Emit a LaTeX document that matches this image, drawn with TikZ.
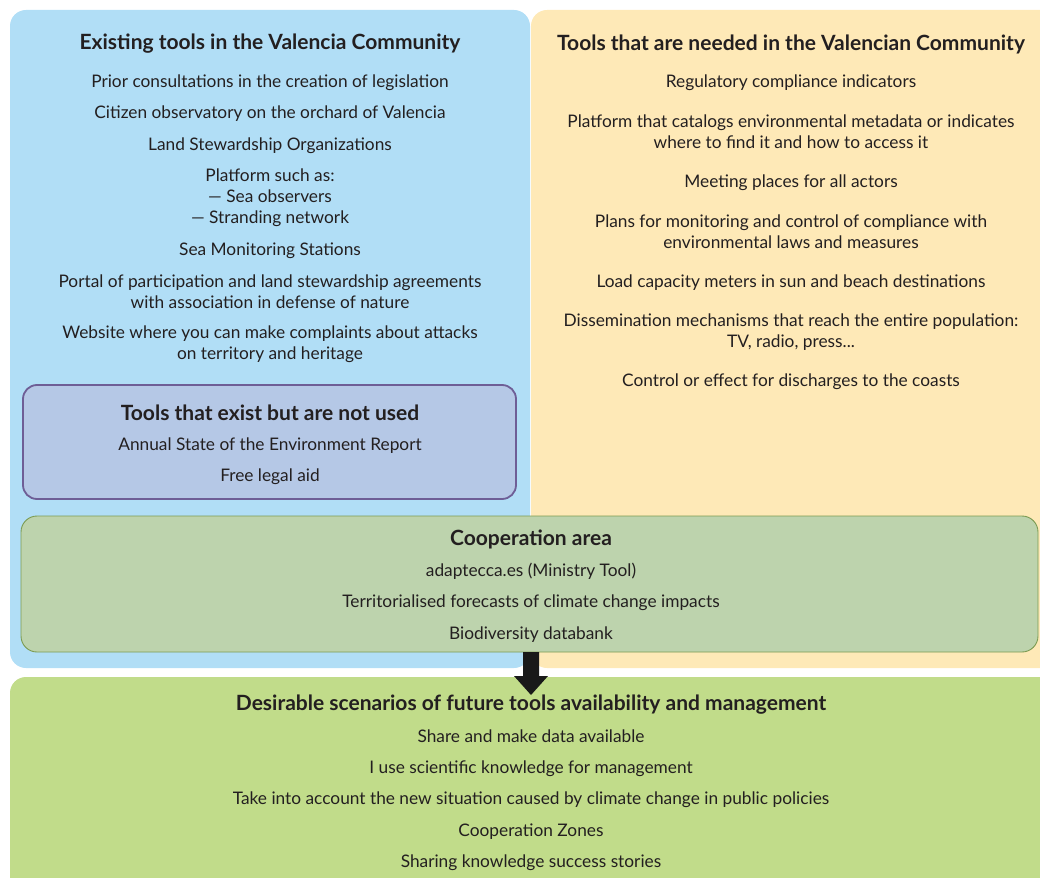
\documentclass[tikz,border=0pt]{standalone}
\usepackage{fontspec}
\setmainfont{Lato}
\usetikzlibrary{arrows.meta}
\definecolor{txt}{HTML}{231F20}
\definecolor{bluebg}{HTML}{B1DEF6}
\definecolor{yellowbg}{HTML}{FEE9B7}
\definecolor{purplefill}{HTML}{B5C8E6}
\definecolor{purpleline}{HTML}{6E5E96}
\definecolor{coopfill}{HTML}{BDD3AD}
\definecolor{coopline}{HTML}{7C9B52}
\definecolor{greenbg}{HTML}{C1DC8A}
\tikzset{
  panel/.style={rounded corners=16pt, draw=none},
  ttl/.style={font=\fontsize{21}{25}\selectfont\bfseries, text=txt, align=center, inner sep=0pt, yshift=-1pt},
  itm/.style={font=\fontsize{17.3}{21}\selectfont, text=txt, align=center, inner sep=0pt, yshift=-1.5pt},
}
\begin{document}
\begin{tikzpicture}[x=1pt,y=-1pt]
\useasboundingbox (0,0) rectangle (1040,877);
% panels
\path[panel, fill=bluebg] (10,10) rectangle (530,668);
\path[panel, fill=yellowbg] (531,10) rectangle (1056,668);
\path[panel, fill=greenbg] (10,677) rectangle (1056,900);
\draw[rounded corners=14pt, fill=purplefill, draw=purpleline, line width=1.8pt] (23,385) rectangle (516,499);
\draw[rounded corners=16pt, fill=coopfill, draw=coopline, line width=0.9pt] (21,516) rectangle (1038,652);
% left
\node[ttl] (lt) at (270,43) {Existing tools in the Valencia Community};
\node[itm] (l1) at (270,81) {Prior consultations in the creation of legislation};
\node[itm] (l2) at (270,112) {Citizen observatory on the orchard of Valencia};
\node[itm] (l3) at (270,144) {Land Stewardship Organizations};
\node[itm] (l4) at (270,196) {Platform such as:\\— Sea observers\\— Stranding network};
\node[itm] (l5) at (270,249) {Sea Monitoring Stations};
\node[itm] (l6) at (270,290.5) {Portal of participation and land stewardship agreements\\with association in defense of nature};
\node[itm] (l7) at (270,342.5) {Website where you can make complaints about attacks\\on territory and heritage};
% purple
\node[ttl] (pt) at (270,412) {Tools that exist but are not used};
\node[itm] (p1) at (270,444) {Annual State of the Environment Report};
\node[itm] (p2) at (270,475) {Free legal aid};
% right
\node[ttl] (rt) at (791,43) {Tools that are needed in the Valencian Community};
\node[itm] (r1) at (791,81) {Regulatory compliance indicators};
\node[itm] (r2) at (791,130.5) {Platform that catalogs environmental metadata or indicates\\where to find it and how to access it};
\node[itm] (r3) at (791,181) {Meeting places for all actors};
\node[itm] (r4) at (791,230.5) {Plans for monitoring and control of compliance with\\environmental laws and measures};
\node[itm] (r5) at (791,281) {Load capacity meters in sun and beach destinations};
\node[itm] (r6) at (791,330.5) {Dissemination mechanisms that reach the entire population:\\TV, radio, press...};
\node[itm] (r7) at (791,380) {Control or effect for discharges to the coasts};
% cooperation
\node[ttl] (ct) at (531,538) {Cooperation area};
\node[itm] (c1) at (531,570) {adaptecca.es (Ministry Tool)};
\node[itm] (c2) at (531,601) {Territorialised forecasts of climate change impacts};
\node[itm] (c3) at (531,633) {Biodiversity databank};
% bottom
\node[ttl] (bt) at (531,704) {Desirable scenarios of future tools availability and management};
\node[itm] (b1) at (531,735) {Share and make data available};
\node[itm] (b2) at (531,767) {I use scientific knowledge for management};
\node[itm] (b3) at (531,798) {Take into account the new situation caused by climate change in public policies};
\node[itm] (b4) at (531,830) {Cooperation Zones};
\node[itm] (b5) at (531,861) {Sharing knowledge success stories};
% arrow
\fill[black!90] (523,652) -- (539,652) -- (539,676) -- (548,676) -- (531,695) -- (514,676) -- (523,676) -- cycle;
\end{tikzpicture}
\end{document}
